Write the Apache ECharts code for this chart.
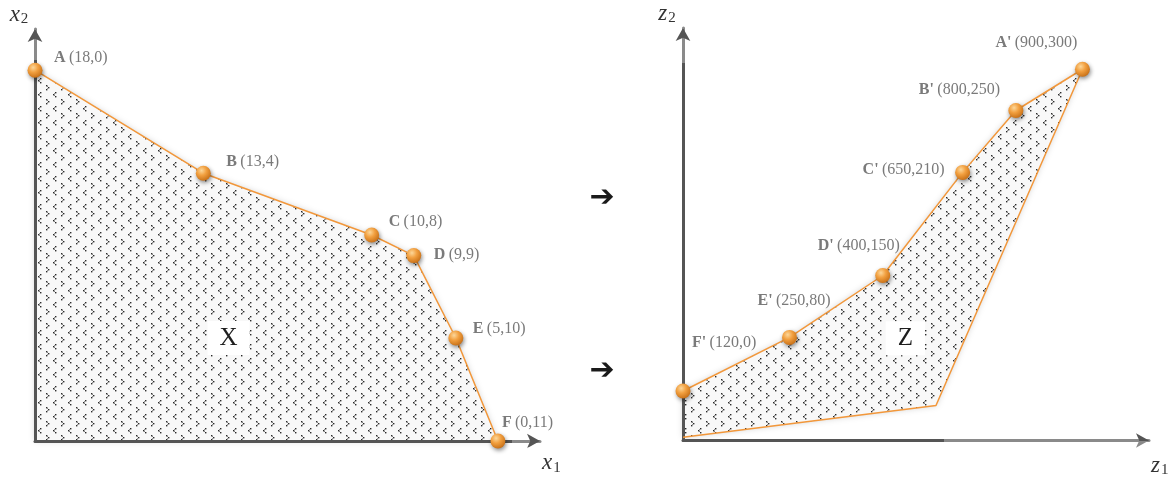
<!DOCTYPE html>
<html>
<head>
<meta charset="utf-8">
<title>Decision space X and objective space Z</title>
<script src="https://cdn.jsdelivr.net/npm/echarts@6/dist/echarts.min.js"></script>
<style>
  html, body { margin: 0; padding: 0; background: #fff; }
  #chart { width: 1176px; height: 478px; }
</style>
</head>
<body>
<div id="chart"></div>
<script>
// Decision space X: vertices A..F, (x1, x2)
const xNames = ['A', 'B', 'C', 'D', 'E', 'F'];
const x1Values = [0, 4, 8, 9, 10, 11];
const x2Values = [18, 13, 10, 9, 5, 0];

// Objective space Z: images A'..F', (z1, z2)
const zNames = ["A'", "B'", "C'", "D'", "E'", "F'"];
const z1Values = [300, 250, 210, 150, 80, 0];
const z2Values = [900, 800, 650, 400, 250, 120];
// unlabeled lower boundary of Z, from the z2 axis towards A'
const zLowerZ1 = [0, 190];
const zLowerZ2 = [8, 85];

// label placement relative to each marker (layout only)
const xLabelOffsets = [[26.5, -4.5], [30.5, -3.5], [24.5, -5.5], [27.5, 6.5], [24.5, -1.5], [11.5, -10.5]];
const zLabelOffsets = [[-79.5, -18.5], [-89.5, -13.5], [-92.5, 4.5], [-57.5, -22.5], [-24.5, -29.5], [16.5, -40.5]];
// where the region names sit, in data coordinates
const xRegionTag = [4.6, 5];
const zRegionTag = [167, 248];

const SERIF = '"Liberation Serif", "DejaVu Serif", serif';
const ORANGE = '#F2973A';
const LABEL_GREY = '#7a7a7a';

// dotted chevron fill used inside both regions
function makeTile() {
  const c = document.createElement('canvas');
  c.width = 15; c.height = 14;
  const g = c.getContext('2d');
  g.fillStyle = '#f8f8f8';
  g.fillRect(0, 0, 15, 14);
  g.fillStyle = 'rgba(20,20,20,0.9)';
  // '>' and '<' made of three small dots each
  const gt = [[0, 0], [2, 2], [0, 4]];
  const lt = [[2, 0], [0, 2], [2, 4]];
  gt.forEach(p => g.fillRect(1 + p[0], 1 + p[1], 1.4, 1.4));
  lt.forEach(p => g.fillRect(8 + p[0], 8 + p[1], 1.4, 1.4));
  g.fillStyle = 'rgba(20,20,20,0.45)';
  g.fillRect(2, 2, 1, 1); g.fillRect(2, 4, 1, 1);
  g.fillRect(9, 9, 1, 1); g.fillRect(9, 11, 1, 1);
  return c;
}
const tile = makeTile();

const ball = new echarts.graphic.RadialGradient(0.38, 0.32, 0.72, [
  { offset: 0, color: '#FCD79A' },
  { offset: 0.45, color: '#F2A040' },
  { offset: 1, color: '#C66E15' }
]);

function pointData(names, xs, ys, offsets) {
  return names.map((n, i) => ({
    name: n,
    value: [xs[i], ys[i]],
    label: { position: offsets[i] }
  }));
}

const xPoints = pointData(xNames, x1Values, x2Values, xLabelOffsets);
const zPoints = pointData(zNames, z1Values, z2Values, zLabelOffsets);
// lower boundary first, then up to A' and back down through F'
const zOutline = zLowerZ1.map((v, i) => ({
  value: [v, zLowerZ2[i]], symbol: 'none', label: { show: false }
})).concat(zPoints);

// polygon outlines
const xPolygon = [[0, 0]].concat(x1Values.map((v, i) => [v, x2Values[i]]).reverse());
const zPolygon = zLowerZ1.map((v, i) => [v, zLowerZ2[i]])
  .concat(z1Values.map((v, i) => [v, z2Values[i]]));

function regionSeries(idx, poly) {
  return {
    type: 'custom',
    xAxisIndex: idx, yAxisIndex: idx,
    z: 1,
    silent: true,
    data: [0],
    renderItem: function (params, api) {
      const pts = poly.map(p => api.coord(p));
      return {
        type: 'polygon',
        shape: { points: pts },
        style: {
          fill: { image: tile, repeat: 'repeat' },
          shadowBlur: 6,
          shadowColor: 'rgba(0,0,0,0.18)'
        }
      };
    }
  };
}

const pointLabel = {
  show: true,
  align: 'left',
  verticalAlign: 'middle',
  formatter: p => '{b|' + p.name + '} {n|(' + p.value[1] + ',' + p.value[0] + ')}',
  rich: {
    b: { fontFamily: SERIF, fontSize: 16, fontWeight: 'bold', color: LABEL_GREY },
    n: { fontFamily: SERIF, fontSize: 16, color: LABEL_GREY }
  }
};

function edgeSeries(idx, data) {
  return {
    type: 'line',
    xAxisIndex: idx, yAxisIndex: idx,
    z: 3,
    clip: false,
    silent: true,
    showAllSymbol: true,
    symbol: 'circle',
    symbolSize: 15,
    data: data,
    lineStyle: { color: ORANGE, width: 1.5 },
    itemStyle: {
      color: ball,
      shadowBlur: 4,
      shadowColor: 'rgba(0,0,0,0.45)',
      shadowOffsetX: 1,
      shadowOffsetY: 2
    },
    label: pointLabel
  };
}

// region name on a white box
function tagSeries(idx, pos, text) {
  return {
    type: 'custom',
    xAxisIndex: idx, yAxisIndex: idx,
    z: 4,
    silent: true,
    data: [pos],
    renderItem: function (params, api) {
      const c = api.coord([api.value(0), api.value(1)]);
      return {
        type: 'text',
        x: c[0], y: c[1],
        style: {
          text: text,
          font: '25px ' + SERIF,
          fill: '#1e1e1e',
          align: 'center',
          verticalAlign: 'middle',
          backgroundColor: '#ffffff',
          padding: [5, 12, 4, 12]
        }
      };
    }
  };
}

function axisLine(fracDark, vertical) {
  const stops = [
    { offset: 0, color: '#555' }, { offset: fracDark, color: '#555' },
    { offset: fracDark, color: '#8a8a8a' }, { offset: 1, color: '#8a8a8a' }];
  const grad = vertical
    ? new echarts.graphic.LinearGradient(0, 1, 0, 0, stops)
    : new echarts.graphic.LinearGradient(0, 0, 1, 0, stops);
  return {
    show: true,
    onZero: false,
    symbol: ['none', 'arrow'],
    symbolSize: [11, 13],
    lineStyle: { color: grad, width: 3 }
  };
}

function axisName(letter, sub) {
  return '{i|' + letter + '}{s|' + sub + '}';
}
const nameRich = {
  i: { fontFamily: SERIF, fontStyle: 'italic', fontSize: 23, color: '#333' },
  s: { fontFamily: SERIF, fontSize: 15, color: '#333', padding: [10, 0, 0, 1] }
};

function valueAxis(gridIndex, min, max, name, vertical, fracDark, pad) {
  return {
    type: 'value',
    gridIndex: gridIndex,
    min: min, max: max,
    z: 2,
    name: name,
    nameLocation: 'end',
    nameGap: 2,
    nameTextStyle: { rich: nameRich, padding: pad },
    axisLine: axisLine(fracDark, vertical),
    axisTick: { show: false },
    axisLabel: { show: false },
    splitLine: { show: false }
  };
}

const chart = echarts.init(document.getElementById('chart'), null, { renderer: 'canvas' });
chart.setOption({
  backgroundColor: '#ffffff',
  animation: false,
  grid: [
    { left: 35, top: 29, width: 505, height: 412 },
    { left: 683, top: 28, width: 466, height: 415 }
  ],
  xAxis: [
    valueAxis(0, 0, 12, axisName('x', '1'), false, 0.94, [44, 0, 0, 0]),
    valueAxis(1, 0, 350, axisName('z', '1'), false, 0.56, [50, 0, 0, 0])
  ],
  yAxis: [
    valueAxis(0, 0, 20, axisName('x', '2'), true, 0.92, [0, 32, 0, 0]),
    valueAxis(1, 0, 1000, axisName('z', '2'), true, 0.91, [0, 32, 0, 0])
  ],
  graphic: [
    { type: 'text', x: 602, y: 198, style: { text: '\u2794', font: 'bold 30px "DejaVu Sans"', fill: '#1a1a1a', align: 'center', verticalAlign: 'middle' } },
    { type: 'text', x: 602, y: 371, style: { text: '\u2794', font: 'bold 30px "DejaVu Sans"', fill: '#1a1a1a', align: 'center', verticalAlign: 'middle' } }
  ],
  series: [
    regionSeries(0, xPolygon),
    regionSeries(1, zPolygon),
    edgeSeries(0, xPoints),
    edgeSeries(1, zOutline),
    tagSeries(0, xRegionTag, 'X'),
    tagSeries(1, zRegionTag, 'Z')
  ]
});
</script>
</body>
</html>
